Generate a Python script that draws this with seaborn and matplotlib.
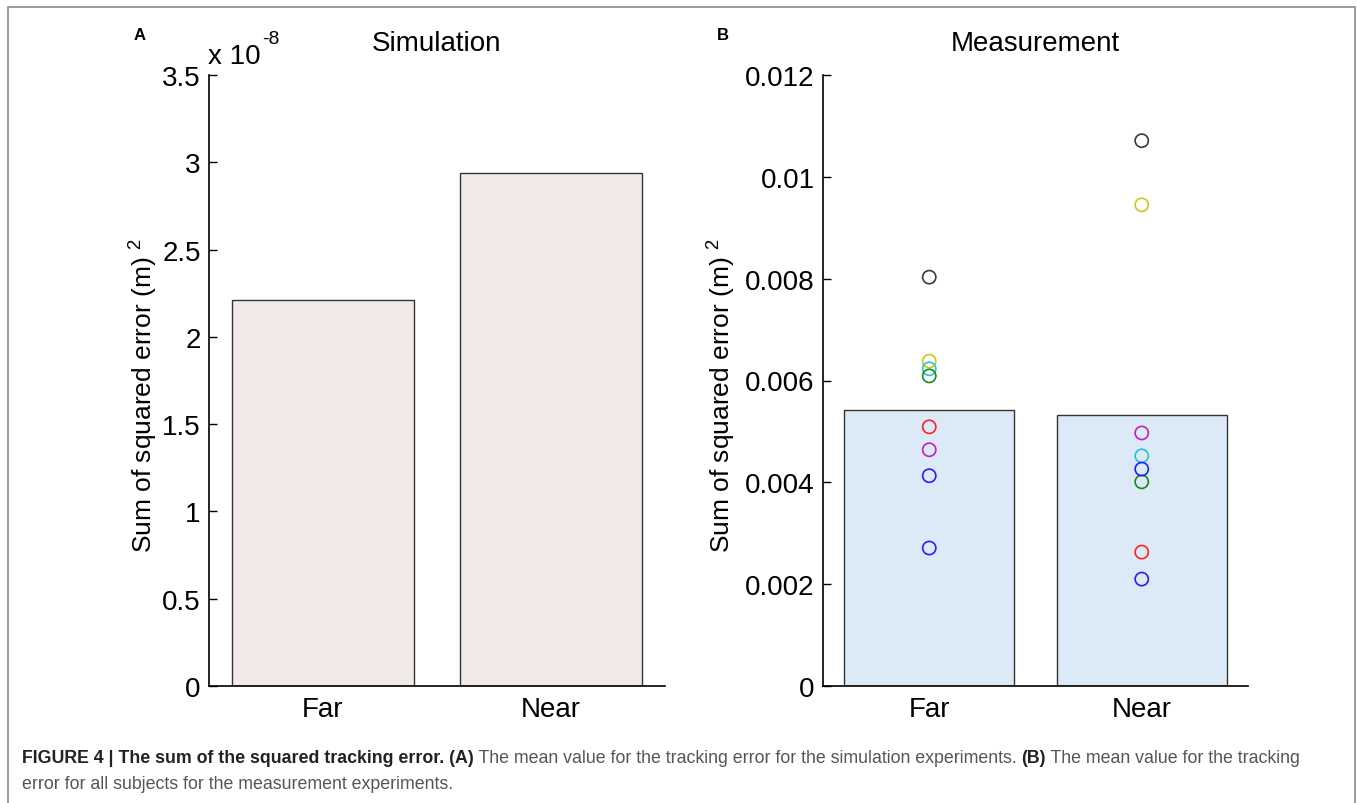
import numpy as np
import pandas as pd
import matplotlib
matplotlib.use("Agg")
import matplotlib.pyplot as plt
import seaborn as sns
from matplotlib.patches import Rectangle
from matplotlib.ticker import FuncFormatter, MultipleLocator

# ---------------- data ----------------
conditions = ["Far", "Near"]
sim_values = [2.21e-8, 2.94e-8]          # panel A bar heights (m^2)
meas_means = [0.00542, 0.00532]          # panel B bar heights
subjects = ["S1", "S2", "S3", "S4", "S5", "S6", "S7", "S8"]
subject_colors = ["#3a3a3a", "#c8c81e", "#20c8c8", "#1a8a1a", "#ff2020", "#c020c0", "#2020ff", "#2020ff"]
far_points = [0.00803, 0.00638, 0.00623, 0.00609, 0.00509, 0.00464, 0.00413, 0.00271]
near_points = [0.01071, 0.00945, 0.00452, 0.00401, 0.00263, 0.00497, 0.00426, 0.00210]
caption_bold1 = "FIGURE 4 | The sum of the squared tracking error. (A)"
caption_norm1 = " The mean value for the tracking error for the simulation experiments. "
caption_bold2 = "(B)"
caption_norm2 = " The mean value for the tracking"
caption_line2 = "error for all subjects for the measurement experiments."

sns.set_style("white")
plt.rcParams["font.family"] = ["Liberation Sans", "DejaVu Sans"]
plt.rcParams["mathtext.fontset"] = "custom"
plt.rcParams["mathtext.rm"] = "Liberation Sans"
plt.rcParams["mathtext.it"] = "Liberation Sans"
for k in ("text.color", "axes.labelcolor", "xtick.color", "ytick.color"):
    plt.rcParams[k] = "black"

W, H = 1357, 804
fig = plt.figure(figsize=(W / 100, H / 100), dpi=100)

def ax_rect(x0, x1, y0, y1):
    return [x0 / W, 1 - y1 / H, (x1 - x0) / W, (y1 - y0) / H]

axA = fig.add_axes(ax_rect(209, 665, 76, 687))
axB = fig.add_axes(ax_rect(823, 1248, 76, 687))

df_sim = pd.DataFrame({"cond": conditions, "val": sim_values})
df_meas = pd.DataFrame({"cond": conditions, "val": meas_means})
df_pts = pd.DataFrame({
    "cond": ["Far"] * len(far_points) + ["Near"] * len(near_points),
    "val": far_points + near_points,
    "subject": subjects + subjects,
})

sns.barplot(data=df_sim, x="cond", y="val", ax=axA, color="#F2EAE8",
            edgecolor="#333333", linewidth=1.0, width=0.8, saturation=1, errorbar=None)
sns.barplot(data=df_meas, x="cond", y="val", ax=axB, color="#DCE9F6",
            edgecolor="#333333", linewidth=1.0, width=0.8, saturation=1, errorbar=None)
n_before = len(axB.collections)
sns.stripplot(data=df_pts, x="cond", y="val", hue="subject", palette=subject_colors,
              jitter=False, ax=axB, size=9.5, linewidth=1.2, legend=False, zorder=5)
for coll in axB.collections[n_before:]:
    fc = coll.get_facecolors()
    coll.set_edgecolors(fc)
    coll.set_facecolors("none")

for ax in (axA, axB):
    ax.set_xlim(-0.5, 1.5)
    ax.set_xlabel("")
    for s in ("top", "right"):
        ax.spines[s].set_visible(False)
    for s in ("left", "bottom"):
        ax.spines[s].set_color("black")
        ax.spines[s].set_linewidth(1.2)
    ax.tick_params(axis="y", direction="in", length=6, width=1.0, labelsize=20, pad=6, left=True,
                   colors="black")
    ax.tick_params(axis="x", length=0, labelsize=20, pad=7, colors="black")
    ax.set_facecolor("none")

axA.set_ylim(0, 3.5e-8)
axA.yaxis.set_major_locator(MultipleLocator(0.5e-8))
axA.yaxis.set_major_formatter(FuncFormatter(lambda v, p: f"{v / 1e-8:g}"))
axB.set_ylim(0, 0.012)
axB.yaxis.set_major_locator(MultipleLocator(0.002))
axB.yaxis.set_major_formatter(FuncFormatter(lambda v, p: "0" if abs(v) < 1e-12 else f"{v:g}"))

ylab = "Sum of squared error (m) $^{2}$"
axA.set_ylabel(ylab, fontsize=19, color="black")
axB.set_ylabel(ylab, fontsize=19, color="black")
axA.yaxis.set_label_coords(-0.107, 0.477)
axB.yaxis.set_label_coords(-0.201, 0.477)
axA.set_title("Simulation", fontsize=20, pad=18, color="black")
axB.set_title("Measurement", fontsize=20, pad=18, color="black")

# exponent label
fig.text(208 / W, 1 - 57 / H, "x 10", fontsize=20, va="center", ha="left")
fig.text(262 / W, 1 - 40 / H, "-8", fontsize=14, va="center", ha="left")

# panel letters
fig.text(140 / W, 1 - 36 / H, "A", fontsize=12, fontweight="bold", va="center", ha="center")
fig.text(723 / W, 1 - 36 / H, "B", fontsize=12, fontweight="bold", va="center", ha="center")

# border
fig.add_artist(Rectangle((8 / W, -0.01), (1355 - 8) / W, 1 - 8 / H + 0.01,
                         transform=fig.transFigure, fill=False, edgecolor="#8a8a8a", linewidth=1.2))

# caption
cap_font = ["Liberation Sans Narrow", "Liberation Sans", "DejaVu Sans"]
renderer = fig.canvas.get_renderer()
x = 22 / W
y1 = 1 - 759 / H
for txt, wt, col in [(caption_bold1, "bold", "#222222"), (caption_norm1, "normal", "#555555"),
                     (caption_bold2, "bold", "#222222"), (caption_norm2, "normal", "#555555")]:
    t = fig.text(x, y1, txt, fontsize=12.8, fontweight=wt, color=col, va="center", ha="left",
                 family=cap_font)
    bb = t.get_window_extent(renderer=renderer)
    x += bb.width / W
fig.text(22 / W, 1 - 785 / H, caption_line2, fontsize=12.8, color="#555555", va="center",
         ha="left", family=cap_font)

fig.savefig("out.png", dpi=100)
